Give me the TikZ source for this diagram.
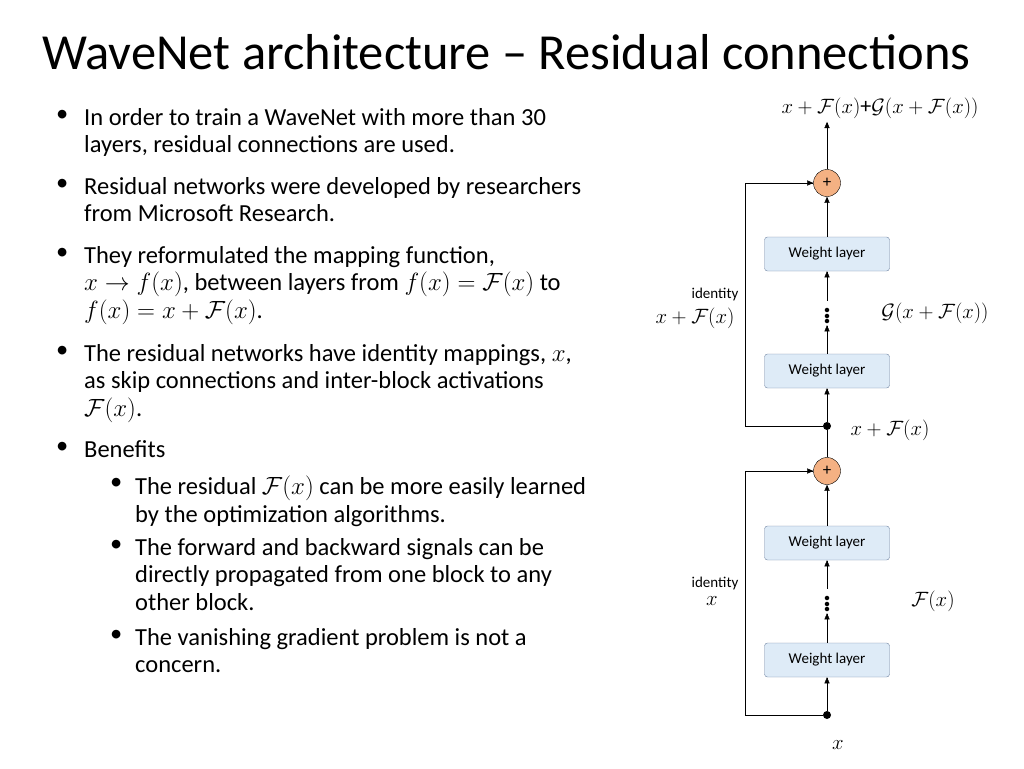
\documentclass[tikz,border=0pt]{standalone}
\usepackage{amsmath}
\usepackage{fontspec}
\setmainfont{Carlito}
\usetikzlibrary{arrows,positioning}
\definecolor{boxfill}{RGB}{222,235,247}
\definecolor{boxline}{RGB}{110,130,160}
\definecolor{plusfill}{RGB}{244,177,131}
\tikzset{>=triangle 45,
  wlayer/.style={draw=boxline,fill=boxfill,rounded corners=3pt,minimum width=125pt,minimum height=34pt,font=\fontsize{15}{18}\selectfont},
  plusnode/.style={circle,draw,fill=plusfill,minimum size=27pt,inner sep=0pt,font=\fontsize{17}{18}\selectfont},
  dot/.style={circle,fill,inner sep=0pt,minimum size=8pt},
  bul/.style={anchor=north west,align=left,inner sep=0pt,font=\fontsize{24.5}{27.6}\selectfont},
  lab/.style={font=\fontsize{22}{26}\selectfont},
  vd/.style={inner sep=0pt,minimum height=24pt,font=\fontsize{30}{30}\selectfont\bfseries},
  small/.style={font=\fontsize{15}{18}\selectfont}}
\begin{document}
\begin{tikzpicture}[x=1pt,y=-1pt]
\useasboundingbox (0,0) rectangle (1024,768);
\node[anchor=base west,inner sep=0pt,font=\fontsize{50.5}{56}\selectfont] (title) at (42,70) {WaveNet architecture -- Residual connections};
% bullets
\foreach \y in {110,179,248,346,442} \node[bul] at (56,\y) {\textbullet};
\foreach \y in {478,540,630} \node[bul] at (110,\y) {\textbullet};
\node[bul] (b1) at (84,108) {In order to train a WaveNet with more than 30\\layers, residual connections are used.};
\node[bul] (b2) at (84,177) {Residual networks were developed by researchers\\from Microsoft Research.};
\node[bul] (b3) at (84,246) {They reformulated the mapping function,\\$x\rightarrow f(x)$, between layers from $f(x)=\mathcal{F}(x)$ to\\$f(x)=x+\mathcal{F}(x)$.};
\node[bul] (b4) at (84,344) {The residual networks have identity mappings, $x$,\\as skip connections and inter-block activations\\$\mathcal{F}(x)$.};
\node[bul] (b5) at (84,440) {Benefits};
\node[bul] (s1) at (135,476) {The residual $\mathcal{F}(x)$ can be more easily learned\\by the optimization algorithms.};
\node[bul] (s2) at (135,538) {The forward and backward signals can be\\directly propagated from one block to any\\other block.};
\node[bul] (s3) at (135,628) {The vanishing gradient problem is not a\\concern.};
% diagram
\node[lab] (top) at (880,108) {$x+\mathcal{F}(x)$+$\mathcal{G}(x+\mathcal{F}(x))$};
\node[plusnode] (p2) at (827,183) {+};
\node[wlayer] (w4) at (827,254) {Weight layer};
\node[vd] (d2) at (827,313) {$\vdots$};
\node[wlayer] (w3) at (827,371) {Weight layer};
\node[dot] (m) at (827,426) {};
\node[plusnode] (p1) at (827,471) {+};
\node[wlayer] (w2) at (827,543) {Weight layer};
\node[vd] (d1) at (827,601) {$\vdots$};
\node[wlayer] (w1) at (827,660) {Weight layer};
\node[dot] (in) at (827,715) {};
\node[lab] (x) at (838,745) {$x$};
\coordinate (c1) at (745,715);
\coordinate (c2) at (745,471);
\coordinate (c3) at (745,426);
\coordinate (c4) at (745,183);
\node[small] (id1) at (715,583) {identity};
\node[lab] (l1) at (712,601) {$x$};
\node[lab] (f1) at (933,601) {$\mathcal{F}(x)$};
\node[small] (id2) at (715,294) {identity};
\node[lab] (l2) at (695,318) {$x+\mathcal{F}(x)$};
\node[lab] (g2) at (935,313) {$\mathcal{G}(x+\mathcal{F}(x))$};
\node[lab] (mx) at (890,430) {$x+\mathcal{F}(x)$};
\draw[->] (in) -- (w1);
\draw[->] (w1) -- (d1);
\draw[->] (d1) -- (w2);
\draw[->] (w2) -- (p1);
\draw (p1) -- (m);
\draw[->] (m) -- (w3);
\draw[->] (w3) -- (d2);
\draw[->] (d2) -- (w4);
\draw[->] (w4) -- (p2);
\draw[->] (p2) -- (p2 |- top.south);
\draw[->] (in) -- (c1) -- (c2) -- (p1);
\draw[->] (m) -- (c3) -- (c4) -- (p2);
\end{tikzpicture}
\end{document}
